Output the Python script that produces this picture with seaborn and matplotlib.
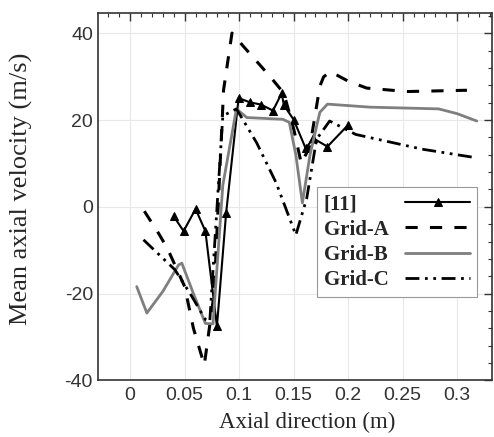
import seaborn as sns
import matplotlib.pyplot as plt
from matplotlib.ticker import MultipleLocator

# [11] experiment (triangles)
ref_x = [0.040, 0.049, 0.060, 0.069, 0.0796, 0.088, 0.0995, 0.110, 0.120, 0.131, 0.139, 0.141,
         0.150, 0.161, 0.168, 0.181, 0.200]
ref_y = [-2.2, -5.6, -0.5, -5.6, -27.6, -1.5, 25.1, 24.1, 23.6, 22.2, 26.2, 23.5,
         20.1, 13.5, 15.8, 13.9, 18.9]

# Grid-A (dashed)
a_x = [0.013, 0.026, 0.034, 0.050, 0.058, 0.068, 0.077, 0.0857, 0.0934, 0.104, 0.1286, 0.141,
       0.150, 0.157, 0.165, 0.174, 0.1775, 0.1837, 0.200, 0.217, 0.254, 0.309]
a_y = [-1.0, -6.1, -9.5, -18.4, -28.0, -36.5, -20.0, 27.0, 40.1, 37.0, 30.0, 26.2,
       18.0, 10.0, 14.0, 27.8, 30.0, 31.2, 29.0, 27.4, 26.6, 26.9]

# Grid-B (grey solid)
b_x = [0.006, 0.0153, 0.030, 0.0444, 0.0474, 0.058, 0.069, 0.076, 0.085, 0.0975, 0.107, 0.140,
       0.146, 0.152, 0.158, 0.165, 0.174, 0.181, 0.220, 0.283, 0.300, 0.318]
b_y = [-18.4, -24.5, -19.5, -13.4, -13.0, -20.0, -26.9, -27.0, 5.0, 22.6, 20.6, 20.2,
       19.5, 12.0, 0.9, 12.0, 21.8, 23.7, 23.0, 22.6, 21.5, 19.8]

# Grid-C (dash-dot-dot)
c_x = [0.0122, 0.041, 0.055, 0.069, 0.073, 0.085, 0.0975, 0.116, 0.134, 0.152, 0.162, 0.171,
       0.183, 0.207, 0.268, 0.318]
c_y = [-7.6, -14.5, -20.0, -26.0, -26.5, 21.0, 22.6, 14.8, 5.5, -6.5, 2.0, 15.6,
       19.8, 16.7, 13.3, 11.3]

sns.set_style("white")
plt.rcParams['font.family'] = ['Liberation Serif', 'DejaVu Sans']
plt.rcParams['axes.unicode_minus'] = False

fig = plt.figure(figsize=(4.94, 4.37), dpi=100)
ax = fig.add_axes([0.198, 0.130, 0.798, 0.840])

sns.lineplot(x=ref_x, y=ref_y, ax=ax, sort=False, estimator=None, color="black",
             linewidth=1.5, marker="^", markersize=6, markeredgecolor="black", label="[11]")
sns.lineplot(x=a_x, y=a_y, ax=ax, sort=False, estimator=None, color="black",
             linewidth=2.2, linestyle=(0, (4, 4)), label="Grid-A")
sns.lineplot(x=b_x, y=b_y, ax=ax, sort=False, estimator=None, color="#7f7f7f",
             linewidth=2.0, label="Grid-B")
sns.lineplot(x=c_x, y=c_y, ax=ax, sort=False, estimator=None, color="black",
             linewidth=2.0, linestyle=(0, (5, 2, 1, 2, 1, 2)), label="Grid-C")

ax.set_xlim(-0.0297, 0.332)
ax.set_ylim(-40, 44.7)
ax.xaxis.set_minor_locator(MultipleLocator(0.01))
ax.yaxis.set_major_locator(MultipleLocator(20))
ax.yaxis.set_minor_locator(MultipleLocator(4))
ax.set_xticks([0, 0.05, 0.1, 0.15, 0.2, 0.25, 0.3])
ax.set_xticklabels(["0", "0.05", "0.1", "0.15", "0.2", "0.25", "0.3"])
ax.grid(True, which="major", color="#e8e8e8", linewidth=0.8)
ax.tick_params(which="both", direction="in", top=True, right=True, colors="#333333",
               labelsize=14)
ax.tick_params(which="major", length=6, width=1)
ax.tick_params(which="minor", length=3, width=0.8)
ax.tick_params(axis="x", pad=5)
for lab in ax.get_xticklabels() + ax.get_yticklabels():
    lab.set_family("Liberation Sans")
for s in ax.spines.values():
    s.set_color("#333333")
    s.set_linewidth(1.2)

ax.set_xlabel("Axial direction (m)", fontsize=16.5)
ax.set_ylabel("Mean axial velocity (m/s)", fontsize=19)
ax.xaxis.set_label_coords(0.53, -0.086)
ax.yaxis.set_label_coords(-0.164, 0.522)

leg = ax.legend(loc="upper left", bbox_to_anchor=(0.555, 0.526), borderaxespad=0,
                markerfirst=False, handlelength=3.1, labelspacing=0.25, fancybox=False,
                prop={"family": "Liberation Serif", "weight": "bold", "size": 15},
                edgecolor="#999999", framealpha=1, borderpad=0.35, handletextpad=0.8)
leg.get_frame().set_linewidth(0.8)

# left-align the label texts while keeping the handles on the right
fig.canvas.draw()
r = fig.canvas.get_renderer()
widths = [t.get_window_extent(r).width for t in leg.get_texts()]
items = [it for col in leg._legend_handle_box.get_children() for it in col.get_children()]
for it, w in zip(items, widths):
    it.sep += (max(widths) - w) * 72 / fig.dpi

plt.savefig("out.png", dpi=100)
